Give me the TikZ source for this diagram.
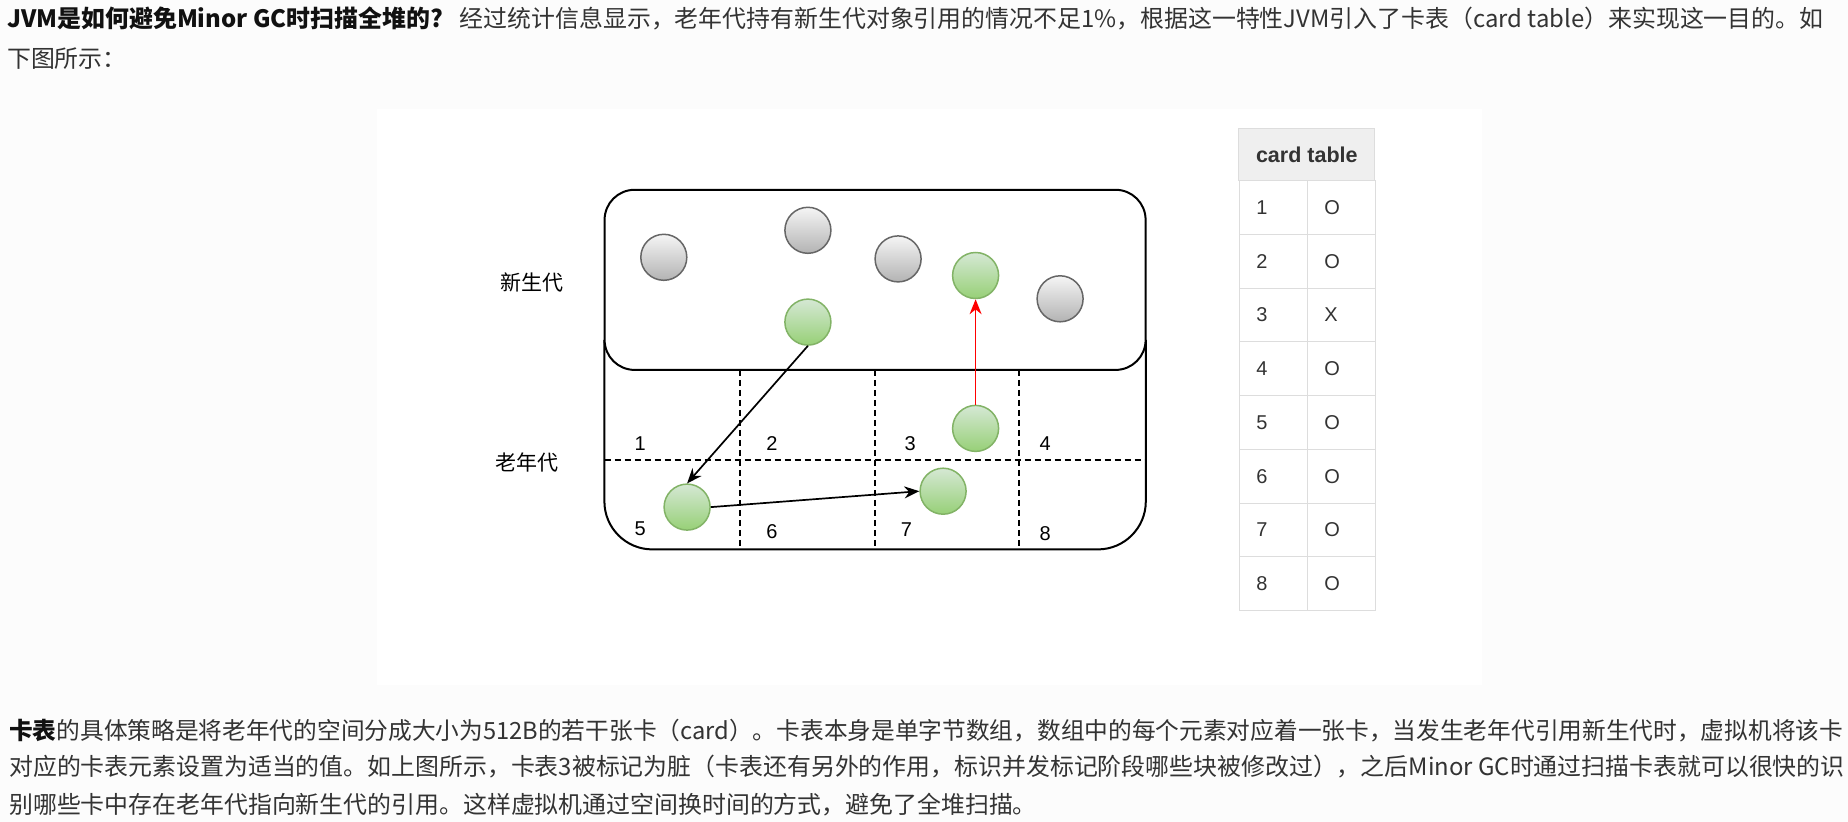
\documentclass[tikz,border=0pt]{standalone}
\usepackage{xcolor}
\usepackage{fontspec}
\setmainfont{Noto Sans CJK SC}
\newfontfamily\helv{Liberation Sans}
\usetikzlibrary{arrows.meta}
\definecolor{pagebg}{HTML}{FCFCFC}
\definecolor{ink}{HTML}{333333}
\definecolor{inkdark}{HTML}{111111}
\definecolor{deadfill}{HTML}{F5F5F5}
\definecolor{deadgrad}{HTML}{B3B3B3}
\definecolor{deadline}{HTML}{666666}
\definecolor{livefill}{HTML}{D5E8D4}
\definecolor{livegrad}{HTML}{97D077}
\definecolor{liveline}{HTML}{82B366}
\definecolor{grid}{HTML}{DDDDDD}
\definecolor{headfill}{HTML}{EFEFEF}
\definecolor{dirtyred}{HTML}{FF0000}

\begin{document}
\begin{tikzpicture}[
    x=1pt, y=-1pt,
    para/.style={anchor=base west, inner sep=0pt, text=ink,
        font=\fontsize{23.9}{28}\selectfont},
    gen/.style={inner sep=0pt, font=\fontsize{21}{25}\selectfont},
    heap/.style={rectangle, draw=black, line width=2pt, fill=white,
        rounded corners=30pt, minimum width=541pt, minimum height=180.1pt},
    card/.style={dash pattern=on 6pt off 4pt, line width=1.5pt},
    cardno/.style={inner sep=0pt, font=\helv\fontsize{20}{24}\selectfont},
    dead/.style={circle, draw=deadline, line width=1.5pt, inner sep=0pt,
        top color=deadfill, bottom color=deadgrad, minimum size=46pt},
    live/.style={circle, draw=liveline, line width=1.5pt, inner sep=0pt,
        top color=livefill, bottom color=livegrad, minimum size=46pt},
    ref/.style={-{Stealth[length=15pt,width=12pt]}, line width=1.7pt},
    cell/.style={rectangle, draw=grid, line width=1pt, text=ink,
        minimum height=53.75pt, inner xsep=17pt, inner ysep=0pt,
        text width=34pt, align=left, font=\helv\fontsize{20}{24}\selectfont},
    thead/.style={rectangle, draw=grid, fill=headfill, line width=1pt, text=ink,
        minimum width=136pt, minimum height=52.4pt,
        font=\helv\bfseries\fontsize{21.5}{26}\selectfont},
]
\useasboundingbox (0,0) rectangle (1848,822);
\fill[pagebg] (0,0) rectangle (1848,822);
\fill[white] (377,109) rectangle (1482,685);

% 文字
\node[para] (q1) at (7,27) {{\color{inkdark}\bfseries JVM是如何避免Minor GC时扫描全堆的?}\hspace{17pt}经过统计信息显示，老年代持有新生代对象引用的情况不足1\%，根据这一特性JVM引入了卡表（card table）来实现这一目的。如};
\node[para] (q2) at (7,67) {下图所示：};

\node[para, font=\fontsize{23.7}{28}\selectfont] (p1) at (9,739.5) {{\color{inkdark}\bfseries 卡表}的具体策略是将老年代的空间分成大小为512B的若干张卡（card）。卡表本身是单字节数组，数组中的每个元素对应着一张卡，当发生老年代引用新生代时，虚拟机将该卡};
\node[para] (p2) at (9,775) {对应的卡表元素设置为适当的值。如上图所示，卡表3被标记为脏（卡表还有另外的作用，标识并发标记阶段哪些块被修改过），之后Minor GC时通过扫描卡表就可以很快的识};
\node[para] (p3) at (9,813) {别哪些卡中存在老年代指向新生代的引用。这样虚拟机通过空间换时间的方式，避免了全堆扫描。};

% 堆
\node[minimum width=541pt, minimum height=209.2pt] (old) at (875.1,444.6) {};
\draw[line width=2pt, rounded corners=48pt] (old.north west) -- (old.south west)
    -- (old.south east) -- (old.north east);
\node[heap] (young) at (875.1,279.85) {};

\node[gen] (younglbl) at (531.7,282.5) {新生代};
\node[gen] (oldlbl) at (527.2,462.5) {老年代};

% 卡
\draw[card] (604.6,460) -- (1144.6,460);
\draw[card] (739.9,369.9) -- (739.9,549.2);
\draw[card] (875.1,369.9) -- (875.1,549.2);
\draw[card] (1019.2,369.9) -- (1019.2,549.2);

\node[cardno] (c1) at (640.1,444) {1};
\node[cardno] (c2) at (772,444) {2};
\node[cardno] (c3) at (910.3,444) {3};
\node[cardno] (c4) at (1045.2,444) {4};
\node[cardno] (c5) at (640.1,528.7) {5};
\node[cardno] (c6) at (772,531.4) {6};
\node[cardno] (c7) at (906.5,529.7) {7};
\node[cardno] (c8) at (1045.2,533.7) {8};

% 对象
\node[dead] (d1) at (663.8,257.3) {};
\node[dead] (d2) at (807.9,230.3) {};
\node[dead] (d3) at (898.1,258.9) {};
\node[dead] (d4) at (1060.1,298.8) {};
\node[live] (ly1) at (975.6,275.5) {};
\node[live] (ly2) at (807.9,322.1) {};
\node[live] (lo3) at (975.6,428.4) {};
\node[live] (lo5) at (687.1,507.1) {};
\node[live] (lo7) at (943.1,491.2) {};

% 引用
\draw[ref] (ly2.south) -- (lo5.north);
\draw[ref] (lo5.east) -- (lo7.west);
\draw[ref, color=dirtyred] (lo3.north) -- (ly1.south);

% 卡表
\node[thead] (thead) at (1306.8,154.5) {card table};
\node[cell] (n1) at (1273.3,207.6) {1};
\node[cell] (v1) at (1341.3,207.6) {O};
\node[cell] (n2) at (1273.3,261.3) {2};
\node[cell] (v2) at (1341.3,261.3) {O};
\node[cell] (n3) at (1273.3,315.1) {3};
\node[cell] (v3) at (1341.3,315.1) {X};
\node[cell] (n4) at (1273.3,368.8) {4};
\node[cell] (v4) at (1341.3,368.8) {O};
\node[cell] (n5) at (1273.3,422.6) {5};
\node[cell] (v5) at (1341.3,422.6) {O};
\node[cell] (n6) at (1273.3,476.3) {6};
\node[cell] (v6) at (1341.3,476.3) {O};
\node[cell] (n7) at (1273.3,530.1) {7};
\node[cell] (v7) at (1341.3,530.1) {O};
\node[cell] (n8) at (1273.3,583.8) {8};
\node[cell] (v8) at (1341.3,583.8) {O};

\end{tikzpicture}
\end{document}
